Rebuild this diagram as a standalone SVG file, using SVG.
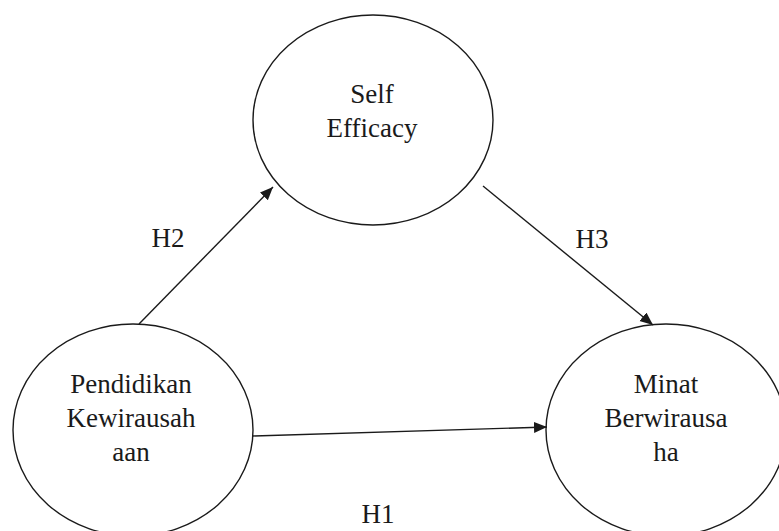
<svg xmlns="http://www.w3.org/2000/svg" width="779" height="531" viewBox="0 0 779 531" font-family="'Liberation Serif', 'Times New Roman', Tinos, 'DejaVu Serif', serif">
<style>
.node ellipse{fill:#fff;stroke:#1a1a1a;stroke-width:1.4}
.t{font-family:'Liberation Serif','Times New Roman',Tinos,'DejaVu Serif',serif;font-size:27px;fill:#1a1a1a;text-anchor:middle}
.edge{stroke:#1a1a1a;stroke-width:1.4;fill:none;marker-end:url(#arr)}
</style>
<defs>
<marker id="arr" markerUnits="userSpaceOnUse" markerWidth="14" markerHeight="12" refX="13" refY="5.5" orient="auto">
<path d="M0,0 L13,5.5 L0,11 z" fill="#1a1a1a"/>
</marker>
</defs>
<rect width="779" height="531" fill="#fff"/>
<g id="self-efficacy" class="node">
<ellipse cx="373" cy="120" rx="120" ry="105"/>
<text class="t" font-family="Liberation Serif, serif" x="372" y="103">Self</text>
<text class="t" font-family="Liberation Serif, serif" x="372" y="137">Efficacy</text>
</g>
<g id="pendidikan" class="node">
<ellipse cx="133" cy="430" rx="120" ry="106"/>
<text class="t" font-family="Liberation Serif, serif" x="131" y="393">Pendidikan</text>
<text class="t" font-family="Liberation Serif, serif" x="131" y="427">Kewirausah</text>
<text class="t" font-family="Liberation Serif, serif" x="131" y="461">aan</text>
</g>
<g id="minat" class="node">
<ellipse cx="666" cy="430" rx="120" ry="106"/>
<text class="t" font-family="Liberation Serif, serif" x="666" y="393">Minat</text>
<text class="t" font-family="Liberation Serif, serif" x="666" y="427">Berwirausa</text>
<text class="t" font-family="Liberation Serif, serif" x="666" y="461">ha</text>
</g>
<g id="connectors">
<line class="edge" x1="139" y1="324" x2="273" y2="187"/>
<line class="edge" x1="483" y1="186" x2="653" y2="325"/>
<line class="edge" x1="253" y1="436" x2="547" y2="427"/>
<text class="t" font-family="Liberation Serif, serif" x="168" y="247">H2</text>
<text class="t" font-family="Liberation Serif, serif" x="592" y="248">H3</text>
<text class="t" font-family="Liberation Serif, serif" x="378" y="523">H1</text>
</g>
</svg>
